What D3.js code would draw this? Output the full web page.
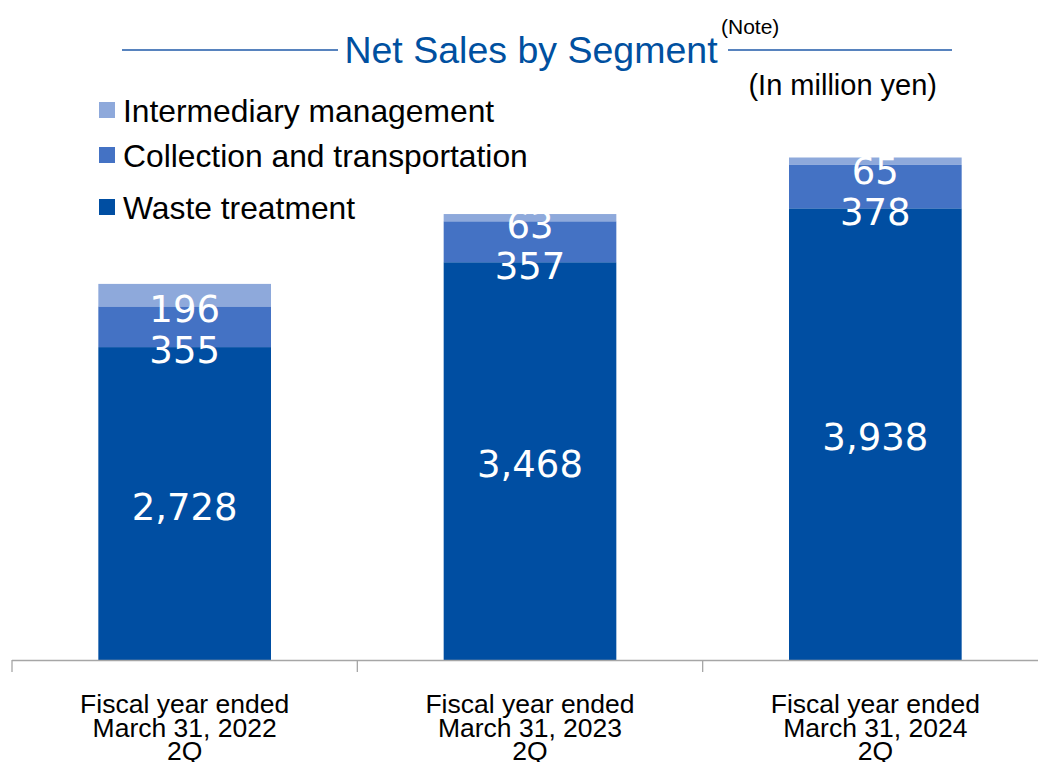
<!DOCTYPE html>
<html><head><meta charset="utf-8">
<script src="https://cdn.jsdelivr.net/npm/d3@7"></script>
<style>body{margin:0;background:#fff}svg{display:block}</style>
</head><body>
<svg id="c" width="1038" height="762"></svg>
<script>
const categories = ["Fiscal year ended|March 31, 2022|2Q","Fiscal year ended|March 31, 2023|2Q","Fiscal year ended|March 31, 2024|2Q"];
const seriesNames = ["Waste treatment","Collection and transportation","Intermediary management"];
const wasteTreatment = [2728, 3468, 3938];
const collectionTransport = [355, 357, 378];
const intermediaryMgmt = [196, 63, 65];
const colors = ["#004EA2", "#4472C4", "#8EA9DB"];

const svg = d3.select("#c");
const W = 1038, H = 762;
const x = d3.scaleBand().domain(categories).range([12, 1048]).paddingInner(0.5).paddingOuter(0.25);
const y = d3.scaleLinear().domain([0, 5000]).range([660, 86.5]);

const rows = categories.map((c, i) => ({cat: c, v: [wasteTreatment[i], collectionTransport[i], intermediaryMgmt[i]]}));
const stack = d3.stack().keys([0,1,2]).value((d,k) => d.v[k]);
const series = stack(rows);

// bars
series.forEach((s, k) => {
  svg.append("g").selectAll("rect").data(s).enter().append("rect")
    .attr("x", d => x(d.data.cat))
    .attr("width", x.bandwidth())
    .attr("y", d => y(d[1]))
    .attr("height", d => y(d[0]) - y(d[1]))
    .attr("fill", colors[k]);
});

// value labels
const fmt = d3.format(",");
const lab = svg.append("g").attr("font-family", "DejaVu Sans, Verdana, sans-serif")
  .attr("font-size", 37).attr("fill", "#fff").attr("text-anchor", "middle");
rows.forEach((r, i) => {
  const cx = x(r.cat) + x.bandwidth() / 2;
  const s0 = series[0][i];
  const wy = (y(s0[0]) + y(s0[1])) / 2 + 3;
  const cy = y(s0[1]) + 3;
  const iy = cy - 41;
  [[r.v[0], wy], [r.v[1], cy], [r.v[2], iy]].forEach(([v, yy]) => {
    lab.append("text").attr("x", cx).attr("y", yy).attr("dy", "0.36em").text(fmt(v));
  });
});

// axis
const axis = svg.append("g").attr("stroke", "#A6A6A6").attr("stroke-width", 1.3);
axis.append("line").attr("x1", 12).attr("x2", W).attr("y1", 660.5).attr("y2", 660.5);
const step = x.step();
[0,1,2].forEach(i => {
  const tx = 12 + i * step;
  axis.append("line").attr("x1", tx).attr("x2", tx).attr("y1", 660).attr("y2", 672);
});

// category labels
const cl = svg.append("g").attr("font-family", "Liberation Sans, Arial, sans-serif")
  .attr("font-size", 26.5).attr("fill", "#000").attr("text-anchor", "middle");
categories.forEach(c => {
  const cx = x(c) + x.bandwidth() / 2;
  const t = cl.append("text").attr("x", cx).attr("y", 713);
  c.split("|").forEach((ln, j) => {
    t.append("tspan").attr("x", cx).attr("y", 713 + j * 23.5).text(ln);
  });
});

// title
svg.append("line").attr("x1", 122).attr("x2", 338).attr("y1", 50).attr("y2", 50).attr("stroke", "#1F5AA8").attr("stroke-width", 1.5);
svg.append("line").attr("x1", 728).attr("x2", 952).attr("y1", 50).attr("y2", 50).attr("stroke", "#1F5AA8").attr("stroke-width", 1.5);
svg.append("text").attr("x", 531).attr("y", 63).attr("text-anchor", "middle")
  .attr("font-family", "Liberation Sans, Arial, sans-serif").attr("font-size", 37.5)
  .attr("fill", "#0050A0").text("Net Sales by Segment");
svg.append("text").attr("x", 721).attr("y", 34)
  .attr("font-family", "Liberation Sans, Arial, sans-serif").attr("font-size", 21)
  .attr("fill", "#000").text("(Note)");
svg.append("text").attr("x", 937).attr("y", 95).attr("text-anchor", "end")
  .attr("font-family", "Liberation Sans, Arial, sans-serif").attr("font-size", 29)
  .attr("fill", "#000").text("(In million yen)");

// legend
const legendOrder = [2, 1, 0];
const legY = [111, 156, 208];
const lg = svg.append("g").attr("font-family", "Liberation Sans, Arial, sans-serif").attr("font-size", 31.8);
legendOrder.forEach((k, j) => {
  lg.append("rect").attr("x", 99).attr("y", legY[j] - 9).attr("width", 16).attr("height", 16).attr("fill", colors[k]);
  lg.append("text").attr("x", 123).attr("y", legY[j]).attr("dy", "0.35em").attr("fill", "#000").text(seriesNames[k]);
});
</script>
</body></html>
